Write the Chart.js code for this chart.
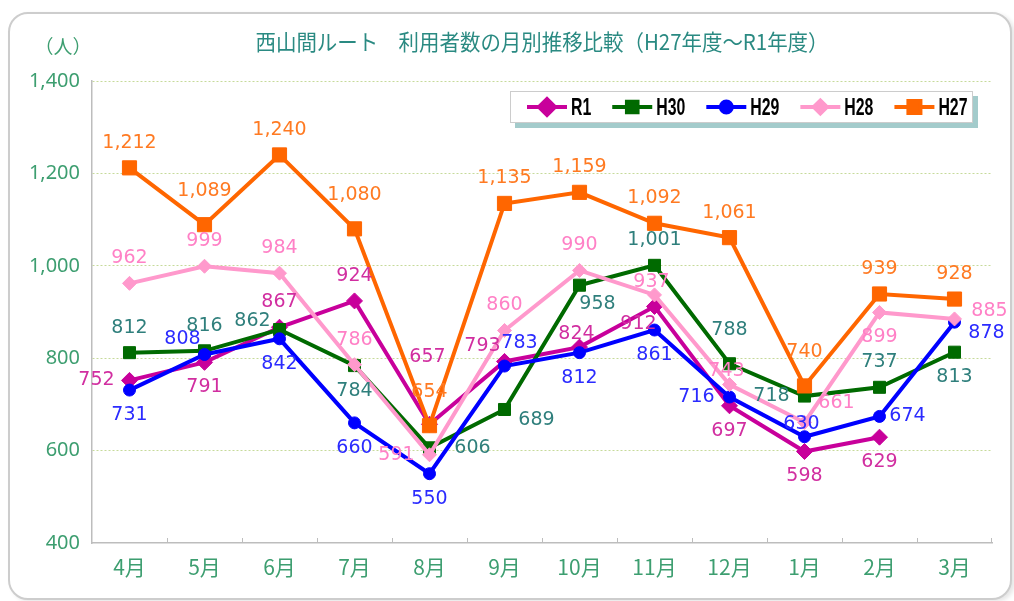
<!DOCTYPE html>
<html><head><meta charset="utf-8">
<script src="https://cdn.jsdelivr.net/npm/chart.js@4.4.1/dist/chart.umd.min.js"></script>
<style>
html,body{margin:0;padding:0;background:#fff;width:1014px;height:601px;overflow:hidden}
#frame{position:absolute;left:8px;top:12px;width:1000px;height:584px;border:2px solid #cdcdcd;border-radius:20px;background:#fff;box-shadow:3px 2px 4px rgba(0,0,0,0.10)}
#c{position:absolute;left:0;top:0}
</style></head><body>
<div id="frame"></div>
<canvas id="c" width="1014" height="601"></canvas>
<script>
// ---- data ----
const months = ['4月','5月','6月','7月','8月','9月','10月','11月','12月','1月','2月','3月'];
const seriesNames = ['R1','H30','H29','H28','H27'];
const r1  = [752, 791, 867, 924, 657, 793, 824, 912, 697, 598, 629, null];
const h30 = [812, 816, 862, 784, 606, 689, 958, 1001, 788, 718, 737, 813];
const h29 = [731, 808, 842, 660, 550, 783, 812, 861, 716, 630, 674, 878];
const h28 = [962, 999, 984, 786, 591, 860, 990, 937, 743, 661, 899, 885];
const h27 = [1212, 1089, 1240, 1080, 654, 1135, 1159, 1092, 1061, 740, 939, 928];
const yMin = 400, yMax = 1400, yStep = 200;
const titleText = '西山間ルート　利用者数の月別推移比較（H27年度～R1年度）';
const unitText = '（人）';

// label placement codes per series (where each value label sits relative to its point)
const r1Pos  = ['l','b','t','t','tt','tl','tc','bl','b','b','b',''];
const h30Pos = ['t','t','lu','b','R','rb','br','t','T','l','t','b'];
const h29Pos = ['b','tl','b','b','b','tr','b','b','l','tc','r','rb'];
const h28Pos = ['t','t','t','t','l','t','t','tc','tc','rt','b','ru'];
const h27Pos = ['t','T','t','T','T','t','t','t','t','T','t','t'];
const OFF = {t:[0,-25],T:[0,-34],tt:[-2,-67],tc:[-3,-13],b:[0,25],l:[-33,0],lu:[-27,-8],
  r:[28,0],R:[43,0],ru:[35,-8],rb:[32,11],rt:[32,-19],tl:[-22,-15],tr:[15,-23],bl:[-16,18],br:[18,19]};

const styles = {
  R1:  {line:'#c8009b', label:'#d12ea0', pt:'rectRot', r:8,   lr:8},
  H30: {line:'#006a00', label:'#2f7f7c', pt:'rect',    r:8.5, lr:7.5},
  H29: {line:'#0000ff', label:'#2b2bff', pt:'circle',  r:6,   lr:5.5},
  H28: {line:'#ff99cc', label:'#ff80c6', pt:'rectRot', r:7,   lr:6.5},
  H27: {line:'#ff6600', label:'#ff7a22', pt:'rect',    r:10,  lr:8.5}
};
const valuesBy = {R1:r1, H30:h30, H29:h29, H28:h28, H27:h27};
const posBy = {R1:r1Pos, H30:h30Pos, H29:h29Pos, H28:h28Pos, H27:h27Pos};

// datasets drawn so that H27 is on top (Chart.js draws index 0 last)
const drawOrder = ['H27','H28','H29','H30','R1'];
const datasets = drawOrder.map(n => ({
  label: n, data: valuesBy[n], borderColor: styles[n].line, backgroundColor: styles[n].line,
  borderWidth: 4, pointStyle: styles[n].pt, pointRadius: styles[n].r, pointHoverRadius: styles[n].r,
  pointBorderWidth: 1, pointBorderColor: styles[n].line, tension: 0, spanGaps: false,
  labelColor: styles[n].label, labelPos: posBy[n]
}));

const fmt = v => v.toLocaleString('en-US');

const textPlugin = {
  id: 'textPlugin',
  afterDraw(chart) {
    const ctx = chart.ctx, a = chart.chartArea;
    ctx.save();
    ctx.fillStyle = '#2a8a82';
    ctx.font = '22px "Noto Sans CJK JP"';
    ctx.textAlign = 'center'; ctx.textBaseline = 'middle';
    const w = ctx.measureText(titleText).width, target = 573;
    ctx.save();
    ctx.translate((a.left + a.right) / 2, 42);
    ctx.scale(Math.min(1, target / w), 1);
    ctx.fillText(titleText, 0, 0);
    ctx.restore();
    ctx.fillStyle = '#3d9e70';
    ctx.font = '19px "Noto Sans CJK JP"';
    ctx.fillText(unitText, 63, 47);
    ctx.restore();
  }
};

const tickPlugin = {
  id: 'tickPlugin',
  afterDraw(chart) {
    const ctx = chart.ctx, xs = chart.scales.x, a = chart.chartArea;
    ctx.save();
    ctx.strokeStyle = '#bdbdbd'; ctx.lineWidth = 1;
    ctx.beginPath();
    for (let i = 1; i <= months.length; i++) {
      const x = i < months.length ? Math.round((xs.getPixelForValue(i - 1) + xs.getPixelForValue(i)) / 2) + 0.5 : a.right - 0.5;
      ctx.moveTo(x, a.bottom); ctx.lineTo(x, a.bottom - 5);
    }
    ctx.stroke();
    ctx.restore();
  }
};

const labelPlugin = {
  id: 'labelPlugin',
  afterDatasetsDraw(chart) {
    const ctx = chart.ctx;
    ctx.save();
    ctx.font = '19px "DejaVu Sans"';
    ctx.textAlign = 'center'; ctx.textBaseline = 'middle';
    chart.data.datasets.forEach((ds, di) => {
      const meta = chart.getDatasetMeta(di);
      ds.data.forEach((v, i) => {
        if (v == null) return;
        const p = meta.data[i];
        const o = OFF[ds.labelPos[i]] || OFF.t;
        ctx.fillStyle = ds.labelColor;
        ctx.fillText(fmt(v), p.x + o[0], p.y + o[1]);
      });
    });
    ctx.restore();
  }
};

const legendPlugin = {
  id: 'boxLegend',
  afterDraw(chart) {
    const ctx = chart.ctx;
    const bx = 510, by = 91, bw = 463, bh = 32;
    ctx.save();
    ctx.fillStyle = '#a3cbcb'; ctx.fillRect(bx + 5, by + 5, bw, bh);
    ctx.fillStyle = '#ffffff'; ctx.fillRect(bx, by, bw, bh);
    ctx.strokeStyle = '#cccccc'; ctx.lineWidth = 1; ctx.strokeRect(bx + 0.5, by + 0.5, bw - 1, bh - 1);
    ctx.font = 'bold 24px "Liberation Sans", sans-serif';
    ctx.textBaseline = 'middle'; ctx.textAlign = 'left';
    const sx = 0.66;
    let x = 527; const cy = by + bh / 2;
    seriesNames.forEach(n => {
      const s = styles[n];
      ctx.strokeStyle = s.line; ctx.lineWidth = 4;
      ctx.beginPath(); ctx.moveTo(x, cy); ctx.lineTo(x + 40, cy); ctx.stroke();
      ctx.fillStyle = s.line;
      Chart.helpers.drawPoint(ctx, {pointStyle: s.pt, radius: s.lr, borderWidth: 1}, x + 20, cy);
      ctx.fillStyle = '#000';
      ctx.save();
      ctx.translate(x + 44, cy + 1); ctx.scale(sx, 1);
      ctx.fillText(n, 0, 0);
      ctx.restore();
      x += 44 + ctx.measureText(n).width * sx + 21;
    });
    ctx.restore();
  }
};

new Chart(document.getElementById('c'), {
  type: 'line',
  data: { labels: months, datasets },
  options: {
    responsive: false, animation: false, devicePixelRatio: 1,
    layout: { padding: { top: 81, left: 20, right: 22, bottom: 0 } },
    plugins: { legend: { display: false }, tooltip: { enabled: false }, title: { display: false } },
    scales: {
      x: {
        offset: true,
        grid: { display: true, drawOnChartArea: false, drawTicks: false },
        border: { display: true, color: '#bdbdbd', width: 1.5 },
        ticks: { color: '#3d9e70', font: { family: '"Noto Sans CJK JP"', size: 21 }, padding: 11 },
        afterFit(s) { s.height = 58; }
      },
      y: {
        min: yMin, max: yMax,
        grid: { color: c => (c.tick && c.tick.value === yMin) ? 'rgba(0,0,0,0)' : '#c6da9a', lineWidth: 1, drawTicks: false },
        border: { display: true, color: '#bdbdbd', width: 1.5, dash: [2, 2] },
        ticks: { stepSize: yStep, color: '#3d9e70', font: { family: '"Noto Sans"', size: 20 }, padding: 12,
                 callback: v => fmt(v) },
        afterFit(s) { s.width = 72; }
      }
    }
  },
  plugins: [textPlugin, tickPlugin, labelPlugin, legendPlugin]
});
</script>
</body></html>
